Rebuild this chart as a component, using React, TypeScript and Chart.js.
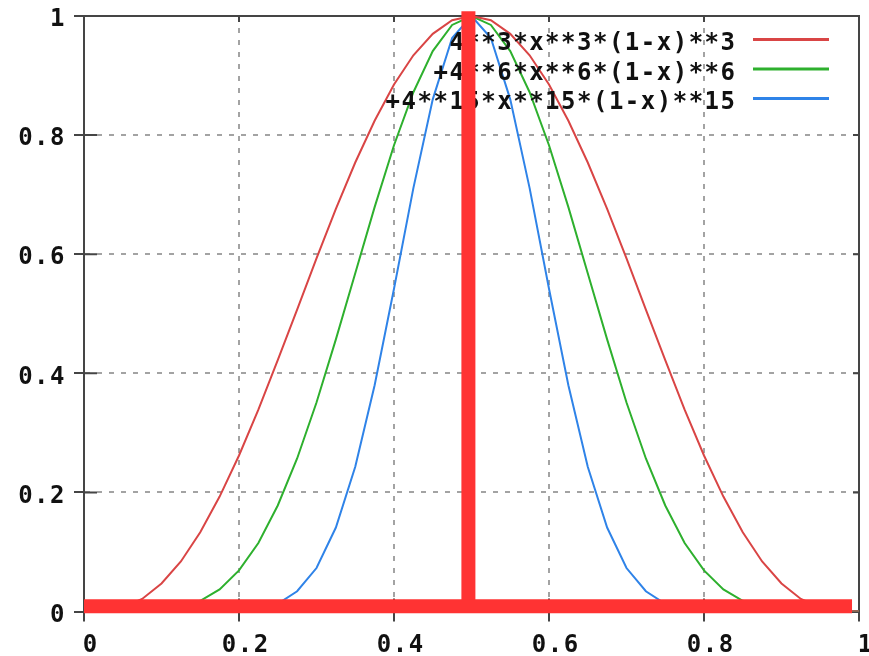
import { useEffect, useRef } from "react";
import { Chart, registerables } from "chart.js";

Chart.register(...registerables);

// ---- data ----
const XS = [
  0, 0.025, 0.05, 0.075, 0.1, 0.125, 0.15, 0.175, 0.2, 0.225, 0.25, 0.275, 0.3, 0.325, 0.35, 0.375, 0.4,
  0.425, 0.45, 0.475, 0.5, 0.525, 0.55, 0.575, 0.6, 0.625, 0.65, 0.675, 0.7, 0.725, 0.75, 0.775, 0.8,
  0.825, 0.85, 0.875, 0.9, 0.925, 0.95, 0.975, 1,
];
const RED_VALUES = [
  0, 0.001, 0.007, 0.021, 0.047, 0.084, 0.133, 0.193, 0.262, 0.339, 0.422, 0.507, 0.593, 0.676, 0.754,
  0.824, 0.885, 0.934, 0.97, 0.993, 1, 0.993, 0.97, 0.934, 0.885, 0.824, 0.754, 0.676, 0.593, 0.507,
  0.422, 0.339, 0.262, 0.193, 0.133, 0.084, 0.047, 0.021, 0.007, 0.001, 0,
];
const GREEN_VALUES = [
  0, 0, 0, 0, 0.002, 0.007, 0.018, 0.037, 0.069, 0.115, 0.178, 0.257, 0.351, 0.457, 0.568, 0.679,
  0.783, 0.872, 0.941, 0.985, 1, 0.985, 0.941, 0.872, 0.783, 0.679, 0.568, 0.457, 0.351, 0.257, 0.178,
  0.115, 0.069, 0.037, 0.018, 0.007, 0.002, 0, 0, 0, 0,
];
const BLUE_VALUES = [
  0, 0, 0, 0, 0, 0, 0, 0, 0.001, 0.005, 0.013, 0.034, 0.073, 0.141, 0.243, 0.38, 0.542, 0.711, 0.86,
  0.963, 1, 0.963, 0.86, 0.711, 0.542, 0.38, 0.243, 0.141, 0.073, 0.034, 0.013, 0.005, 0.001, 0, 0, 0,
  0, 0, 0, 0, 0,
];
const SERIES_LABELS = ["4**3*x**3*(1-x)**3", "+4**6*x**6*(1-x)**6", "+4**15*x**15*(1-x)**15"];

const X_TICKS = [0, 0.2, 0.4, 0.6, 0.8, 1];
const X_TICK_LABELS = ["0", "0.2", "0.4", "0.6", "0.8", "1"];
const Y_TICKS = [0, 0.2, 0.4, 0.6, 0.8, 1];
const Y_TICK_LABELS = ["0", "0.2", "0.4", "0.6", "0.8", "1"];

// red marker strokes
const MARK_H_X = [0, 0.991];
const MARK_H_Y = [0.009, 0.009];
const MARK_V_X = [0.496, 0.496];
const MARK_V_Y = [0.009, 1.008];

// ---- styles ----
const SERIES_COLORS = ["#d94545", "#2eb02e", "#2f83e8"];
const MARK_COLOR = "#ff3333";
const AXIS_COLOR = "#454545";
const GRID_COLOR = "#a3a3a3";
const TEXT_COLOR = "#111111";
const FONT_FAMILY = "'DejaVu Sans Mono', 'Liberation Mono', monospace";
const LETTER_SPACING = "1.5px";

function drawLegend(chart: any) {
  const ctx = chart.ctx as CanvasRenderingContext2D;
  const area = chart.chartArea;
  const textRight = area.right - 122.5;
  const lineX1 = area.right - 106;
  const lineX2 = area.right - 30;
  const rowStep = 29.5;
  ctx.save();
  (ctx as any).letterSpacing = LETTER_SPACING;
  ctx.font = `bold 24px ${FONT_FAMILY}`;
  ctx.textAlign = "right";
  ctx.textBaseline = "alphabetic";
  let row = 0;
  chart.data.datasets.forEach((ds: any) => {
    if (ds.isMarker || !ds.label) return;
    const lineY = area.top + 23.5 + row * rowStep;
    ctx.fillStyle = TEXT_COLOR;
    ctx.fillText(ds.label, textRight, area.top + 34 + row * rowStep);
    ctx.strokeStyle = ds.borderColor;
    ctx.lineWidth = 3;
    ctx.beginPath();
    ctx.moveTo(lineX1, lineY);
    ctx.lineTo(lineX2, lineY);
    ctx.stroke();
    row++;
  });
  ctx.restore();
}

const gnuplotPlugin = {
  id: "gnuplotLook",
  beforeLayout(chart: any) {
    (chart.ctx as any).letterSpacing = LETTER_SPACING;
  },
  beforeDraw(chart: any) {
    (chart.ctx as any).letterSpacing = LETTER_SPACING;
    chart.$legendDone = false;
  },
  beforeDatasetsDraw(chart: any) {
    const ctx = chart.ctx as CanvasRenderingContext2D;
    const { left, right, top, bottom } = chart.chartArea;
    const xs = chart.scales.x;
    const ys = chart.scales.y;
    ctx.save();
    ctx.strokeStyle = AXIS_COLOR;
    ctx.lineWidth = 2;
    ctx.strokeRect(left, top, right - left, bottom - top);
    ctx.beginPath();
    X_TICKS.forEach((v) => {
      const px = xs.getPixelForValue(v);
      ctx.moveTo(px, bottom);
      ctx.lineTo(px, bottom - 13);
      ctx.moveTo(px, top);
      ctx.lineTo(px, top + 6);
    });
    Y_TICKS.forEach((v) => {
      const py = ys.getPixelForValue(v);
      ctx.moveTo(left, py);
      ctx.lineTo(left + 13, py);
      ctx.moveTo(right, py);
      ctx.lineTo(right - 6, py);
    });
    ctx.stroke();
    ctx.restore();
  },
  beforeDatasetDraw(chart: any, args: any) {
    const ds = chart.data.datasets[args.index];
    if (!ds.isMarker || chart.$legendDone) return;
    chart.$legendDone = true;
    drawLegend(chart);
  },
  afterDatasetsDraw(chart: any) {
    if (!chart.$legendDone) {
      chart.$legendDone = true;
      drawLegend(chart);
    }
  },
};

export default function App() {
  const ref = useRef<HTMLCanvasElement>(null);

  useEffect(() => {
    const canvas = ref.current;
    if (!canvas) return;
    const toPoints = (ys: number[]) => XS.map((x, i) => ({ x, y: ys[i] }));
    const series = [RED_VALUES, GREEN_VALUES, BLUE_VALUES];
    const tickFont = { family: FONT_FAMILY, size: 24, weight: "bold" as const };

    const datasets: any[] = series.map((vals, i) => ({
      label: SERIES_LABELS[i],
      data: toPoints(vals),
      borderColor: SERIES_COLORS[i],
      backgroundColor: SERIES_COLORS[i],
      borderWidth: 2,
      pointRadius: 0,
      tension: 0,
      fill: false,
      order: 0,
    }));
    datasets.push({
      label: "",
      isMarker: true,
      data: MARK_H_X.map((x, i) => ({ x, y: MARK_H_Y[i] })),
      borderColor: MARK_COLOR,
      borderWidth: 14,
      borderCapStyle: "butt",
      pointRadius: 0,
      fill: false,
      clip: false,
      order: -1,
    });
    datasets.push({
      label: "",
      isMarker: true,
      data: MARK_V_X.map((x, i) => ({ x, y: MARK_V_Y[i] })),
      borderColor: MARK_COLOR,
      borderWidth: 14,
      borderCapStyle: "butt",
      pointRadius: 0,
      fill: false,
      clip: false,
      order: -1,
    });

    const chart = new Chart(canvas, {
      type: "line",
      data: { datasets },
      plugins: [gnuplotPlugin as any],
      options: {
        responsive: false,
        animation: false,
        events: [],
        layout: { padding: { left: 0, top: 16, right: 10, bottom: 0 } },
        plugins: {
          legend: { display: false },
          tooltip: { enabled: false },
          title: { display: false },
        },
        scales: {
          x: {
            type: "linear",
            min: 0,
            max: 1,
            afterBuildTicks: (s: any) => {
              s.ticks = X_TICKS.map((v) => ({ value: v }));
            },
            afterFit: (s: any) => {
              s.height = 44.5;
              s.paddingLeft = 0;
              s.paddingRight = 0;
            },
            ticks: {
              callback: (v: any) => X_TICK_LABELS[X_TICKS.indexOf(Number(v))] ?? "",
              font: tickFont,
              color: TEXT_COLOR,
              padding: 10,
              labelOffset: 6.75,
              maxRotation: 0,
              autoSkip: false,
            },
            grid: {
              color: GRID_COLOR,
              lineWidth: 2,
              tickLength: 10,
              tickColor: AXIS_COLOR,
              tickWidth: 2,
            },
            border: { display: true, color: AXIS_COLOR, width: 2, dash: [5, 7] },
          },
          y: {
            type: "linear",
            min: 0,
            max: 1,
            afterBuildTicks: (s: any) => {
              s.ticks = Y_TICKS.map((v) => ({ value: v }));
            },
            afterFit: (s: any) => {
              s.width = 84;
              s.paddingTop = 0;
              s.paddingBottom = 0;
            },
            ticks: {
              callback: (v: any) => Y_TICK_LABELS[Y_TICKS.indexOf(Number(v))] ?? "",
              font: tickFont,
              color: TEXT_COLOR,
              padding: 8,
              labelOffset: 4,
              autoSkip: false,
            },
            grid: {
              color: GRID_COLOR,
              lineWidth: 2,
              tickLength: 10,
              tickColor: AXIS_COLOR,
              tickWidth: 2,
            },
            border: { display: true, color: AXIS_COLOR, width: 2, dash: [5, 7] },
          },
        },
      } as any,
    });

    return () => chart.destroy();
  }, []);

  return (
    <div style={{ position: "absolute", left: 0, top: 0, width: 869, height: 656 }}>
      <canvas ref={ref} width={869} height={656} style={{ width: 869, height: 656, display: "block" }} />
    </div>
  );
}
